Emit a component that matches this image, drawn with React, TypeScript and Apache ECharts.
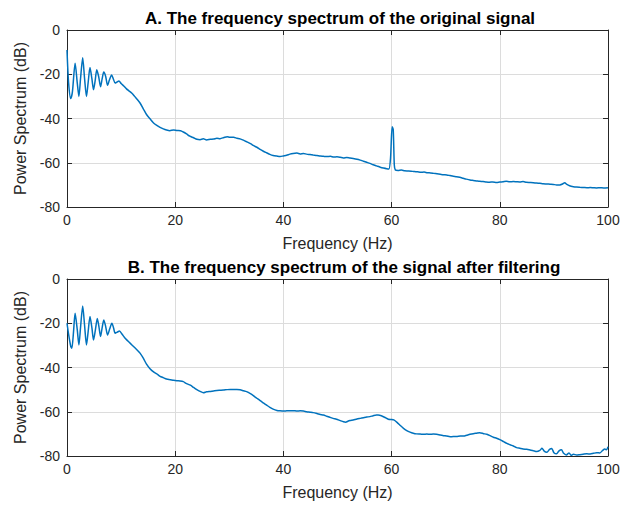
import React, { useEffect, useRef } from "react";
import * as echarts from "echarts";

const titleA = "A. The frequency spectrum of the original signal";
const titleB = "B. The frequency spectrum of the signal after filtering";
const xName = "Frequency (Hz)";
const yName = "Power Spectrum (dB)";
const xTicks = [0, 20, 40, 60, 80, 100];
const yTicks = [-80, -60, -40, -20, 0];

const spectrumOriginal: [number, number][] = [
  [0, -9], [0.3, -24], [0.7, -31], [1.0, -28], [1.5, -15], [1.9, -24], [2.2, -30], [2.5, -22],
  [2.9, -12.5], [3.25, -22], [3.6, -30], [3.9, -24], [4.25, -17], [4.6, -22], [4.9, -27], [5.2, -23],
  [5.5, -18], [5.85, -21], [6.2, -25.6], [6.5, -22], [6.8, -19], [7.15, -21], [7.5, -25], [7.85, -22.5],
  [8.25, -20.3], [8.55, -22], [8.9, -24], [9.25, -23.5], [9.6, -23], [10.0, -24.2], [10.5, -25.3],
  [11.0, -26.6], [11.5, -27.6], [12.0, -28.6], [12.5, -30], [13.0, -31.4], [13.5, -33], [14.1, -35.6],
  [14.7, -38.2], [15.3, -40], [16.0, -42], [16.6, -43.1], [17.2, -44], [17.8, -44.7], [18.4, -45.2],
  [19.0, -45.5], [19.7, -45.2], [20.3, -45.4], [21.0, -45.5], [21.5, -46.1], [22.1, -47], [22.7, -48],
  [23.4, -48.7], [24.0, -49.4], [24.6, -49.6], [25.2, -49.2], [25.8, -49.7], [26.5, -49.4], [27.1, -49.3],
  [27.7, -48.9], [28.3, -49.1], [29.0, -48.6], [29.6, -48.2], [30.1, -48.5], [30.8, -48.5], [31.4, -48.9],
  [32.0, -49.2], [32.6, -49.8], [33.2, -50.5], [34.0, -51.5], [34.5, -52.3], [35.1, -53], [35.7, -54],
  [36.3, -54.8], [36.9, -55.5], [37.5, -56.2], [38.1, -56.7], [38.8, -57], [39.4, -57.2], [40.0, -56.9],
  [40.6, -56.6], [41.2, -56.1], [41.8, -55.8], [42.5, -55.6], [43.1, -56], [43.7, -55.8], [44.3, -56.1],
  [44.9, -56.3], [45.5, -56.5], [46.2, -56.7], [46.8, -57], [47.4, -57.1], [48.0, -57.2], [48.7, -57.1],
  [49.3, -57.4], [49.9, -57.3], [50.5, -57.5], [51.1, -57.8], [51.7, -57.6], [52.3, -57.9], [52.9, -58.1],
  [53.6, -58.4], [54.2, -58.8], [54.8, -59.3], [55.4, -59.8], [56.0, -60.3], [56.6, -60.9], [57.2, -61.4],
  [57.9, -62], [58.5, -62.4], [59.1, -62.7], [59.5, -62.8], [59.8, -58], [60.1, -43.7], [60.3, -45],
  [60.5, -61], [60.7, -63.3], [61.2, -63.5], [61.8, -63.3], [62.4, -63.6], [63.0, -63.7], [63.6, -63.8],
  [64.2, -64], [64.8, -64.1], [65.4, -64.3], [66.0, -64.2], [66.6, -64.5], [67.2, -64.6], [67.8, -64.8],
  [68.4, -65], [69.0, -65.2], [69.6, -65.4], [70.2, -65.5], [70.8, -65.8], [71.4, -66.1], [72.0, -66.3],
  [72.6, -66.6], [73.2, -67], [73.8, -67.4], [74.5, -67.8], [75.1, -68], [75.7, -68.2], [76.3, -68.4],
  [76.9, -68.5], [77.5, -68.7], [78.1, -68.8], [78.7, -68.7], [79.4, -68.9], [80.0, -68.7], [80.6, -68.6],
  [81.2, -68.4], [81.8, -68.6], [82.5, -68.5], [83.1, -68.6], [83.7, -68.7], [84.3, -68.5], [84.9, -68.8],
  [85.6, -68.9], [86.2, -69], [86.8, -69.2], [87.4, -69.3], [88.0, -69.5], [88.7, -69.6], [89.3, -69.7],
  [89.9, -69.8], [90.5, -70], [91.1, -70], [91.6, -69.6], [92.0, -69], [92.4, -69.8], [92.9, -70.4],
  [93.6, -70.8], [94.2, -71], [94.8, -71.1], [95.5, -71.2], [96.1, -71.3], [96.7, -71.2], [97.3, -71.3],
  [97.9, -71.4], [98.5, -71.3], [99.2, -71.4], [100, -71.3],
];

const spectrumFiltered: [number, number][] = [
  [0, -20], [0.3, -25], [0.7, -30.5], [0.9, -31.3], [1.2, -24], [1.5, -15.5], [1.9, -23], [2.2, -29.8],
  [2.5, -22], [2.9, -12.2], [3.25, -21], [3.6, -29.8], [3.9, -24], [4.25, -17], [4.6, -22], [4.9, -27.6],
  [5.25, -23], [5.6, -17.8], [5.9, -21.5], [6.2, -26], [6.5, -22], [6.8, -18.5], [7.15, -21.5], [7.5, -25.3],
  [7.9, -22.5], [8.3, -20], [8.6, -22], [8.9, -24.5], [9.3, -24], [9.7, -23.5], [10.2, -25], [10.6, -26.3],
  [11.0, -27.4], [11.5, -28.6], [12.0, -29.8], [12.5, -31], [13.0, -32.2], [13.5, -33.5], [14.1, -35.8],
  [14.7, -38.5], [15.3, -40.4], [16.0, -42], [16.6, -42.9], [17.2, -44], [17.8, -44.6], [18.4, -45.2],
  [19.1, -45.5], [19.7, -45.8], [20.3, -46], [20.9, -46.1], [21.5, -46.4], [22.1, -47.3], [22.8, -48],
  [23.4, -49], [24.0, -50], [24.6, -50.8], [25.2, -51.4], [25.8, -51], [26.5, -50.8], [27.1, -50.6],
  [27.7, -50.4], [28.3, -50.3], [28.9, -50.2], [29.6, -50], [30.2, -49.9], [30.8, -49.9], [31.4, -49.9],
  [32.0, -50.1], [32.6, -50.5], [33.2, -50.9], [33.9, -51.8], [34.5, -52.8], [35.1, -53.9], [35.7, -55],
  [36.3, -56], [36.9, -57], [37.5, -58], [38.1, -58.8], [38.8, -59.4], [39.4, -59.6], [40.0, -59.7],
  [40.6, -59.6], [41.2, -59.5], [41.8, -59.5], [42.5, -59.7], [43.1, -59.6], [43.7, -59.7], [44.3, -60],
  [44.9, -60.2], [45.5, -60.4], [46.2, -60.8], [46.8, -61.2], [47.4, -61.5], [48.0, -62], [48.6, -62.5],
  [49.2, -63], [49.8, -63.4], [50.5, -64], [51.1, -64.5], [51.5, -64.7], [52.0, -64.2], [52.3, -64],
  [52.9, -63.7], [53.6, -63.3], [54.2, -63], [54.8, -62.7], [55.4, -62.4], [56.0, -62.2], [56.6, -61.8],
  [57.2, -61.5], [57.5, -61.5], [58.1, -61.8], [58.7, -62.5], [59.4, -63.4], [60.0, -63.5], [60.4, -63.7],
  [61.0, -64.8], [61.6, -66.2], [62.2, -67.5], [62.8, -68.5], [63.4, -69.2], [64.0, -69.7], [64.6, -70],
  [65.3, -70.1], [65.9, -70.2], [66.5, -70.1], [67.1, -70.2], [67.7, -70.1], [68.3, -70.2], [69.0, -70.5],
  [69.6, -70.8], [70.2, -71], [70.8, -71.3], [71.4, -71.2], [72.0, -71.2], [72.7, -71], [73.3, -71],
  [73.9, -70.6], [74.5, -70.2], [75.1, -69.9], [75.7, -69.7], [76.3, -69.5], [77.0, -69.9], [77.6, -70.2],
  [78.2, -70.8], [78.8, -71.5], [79.4, -72], [80.0, -72.6], [80.7, -73.5], [81.3, -74.3], [81.9, -74.9],
  [82.5, -75.5], [83.1, -76.2], [83.7, -76.5], [84.3, -76.8], [85.0, -77], [85.6, -77.3], [86.2, -77.6],
  [86.8, -78], [87.4, -77.5], [87.8, -76.5], [88.2, -77.8], [88.7, -78.3], [89.2, -77], [89.6, -76.6],
  [90.0, -78.5], [90.5, -79], [90.9, -77.8], [91.4, -77.2], [91.8, -78.8], [92.3, -79.5], [92.8, -78.6],
  [93.2, -79.7], [93.6, -79.2], [94.2, -79.6], [94.8, -79.4], [95.4, -79.2], [96.1, -79], [96.7, -79.1],
  [97.3, -78.8], [97.9, -78.5], [98.5, -78.6], [99.0, -77.5], [99.4, -76.8], [99.7, -77.2], [100, -75.8],
];

const AXIS = "#262626";
const GRID = "#dcdcdc";
const LINE = "#0072BD";
const FONT = "Liberation Sans, Arial, sans-serif";

export default function App() {
  const ref = useRef<HTMLDivElement>(null);
  useEffect(() => {
    if (!ref.current) return;
    const chart = echarts.init(ref.current, undefined, { renderer: "svg" });
    const grids = [
      { left: 67, top: 30, width: 541, height: 177 },
      { left: 67, top: 279, width: 541, height: 177 },
    ];
    const xAxes: any[] = [];
    const yAxes: any[] = [];
    [0, 1].forEach((g) => {
      xAxes.push({
        type: "value", gridIndex: g, min: 0, max: 100, interval: 20, position: "bottom",
        name: xName, nameLocation: "middle", nameGap: 28,
        nameTextStyle: { fontFamily: FONT, fontSize: 16, color: AXIS },
        axisLine: { show: true, onZero: false, lineStyle: { color: AXIS, width: 1 } },
        axisTick: { show: true, inside: true, length: 5, lineStyle: { color: AXIS } },
        axisLabel: { fontFamily: FONT, fontSize: 14, color: AXIS, margin: 6,
          formatter: (v: number) => (xTicks.includes(v) ? String(v) : "") },
        splitLine: { show: true, lineStyle: { color: GRID, width: 1 } },
      });
      xAxes.push({
        type: "value", gridIndex: g, min: 0, max: 100, interval: 20, position: "top",
        axisLine: { show: true, onZero: false, lineStyle: { color: AXIS, width: 1 } },
        axisTick: { show: true, inside: true, length: 5, lineStyle: { color: AXIS } },
        axisLabel: { show: false }, splitLine: { show: false },
      });
      yAxes.push({
        type: "value", gridIndex: g, min: -80, max: 0, interval: 20, position: "left",
        name: yName, nameLocation: "middle", nameGap: 38,
        nameTextStyle: { fontFamily: FONT, fontSize: 16, color: AXIS },
        axisLine: { show: true, onZero: false, lineStyle: { color: AXIS, width: 1 } },
        axisTick: { show: true, inside: true, length: 5, lineStyle: { color: AXIS } },
        axisLabel: { fontFamily: FONT, fontSize: 14, color: AXIS, margin: 7,
          formatter: (v: number) => (yTicks.includes(v) ? String(v) : "") },
        splitLine: { show: true, lineStyle: { color: GRID, width: 1 } },
      });
      yAxes.push({
        type: "value", gridIndex: g, min: -80, max: 0, interval: 20, position: "right",
        axisLine: { show: true, onZero: false, lineStyle: { color: AXIS, width: 1 } },
        axisTick: { show: true, inside: true, length: 5, lineStyle: { color: AXIS } },
        axisLabel: { show: false }, splitLine: { show: false },
      });
    });
    chart.setOption({
      animation: false,
      backgroundColor: "#ffffff",
      title: [
        { text: titleA, left: 335, top: 5, textAlign: "center",
          textStyle: { fontFamily: FONT, fontSize: 17, fontWeight: "bold", color: "#000" } },
        { text: titleB, left: 339, top: 254, textAlign: "center",
          textStyle: { fontFamily: FONT, fontSize: 17, fontWeight: "bold", color: "#000" } },
      ],
      grid: grids,
      xAxis: xAxes,
      yAxis: yAxes,
      series: [
        { type: "line", xAxisIndex: 0, yAxisIndex: 0, data: spectrumOriginal, showSymbol: false,
          smooth: 0.25, lineStyle: { color: LINE, width: 1.5 } },
        { type: "line", xAxisIndex: 2, yAxisIndex: 2, data: spectrumFiltered, showSymbol: false,
          smooth: 0.25, lineStyle: { color: LINE, width: 1.5 } },
      ],
    });
    return () => chart.dispose();
  }, []);
  return <div ref={ref} style={{ width: 633, height: 505, position: "absolute", left: 0, top: 0 }} />;
}
